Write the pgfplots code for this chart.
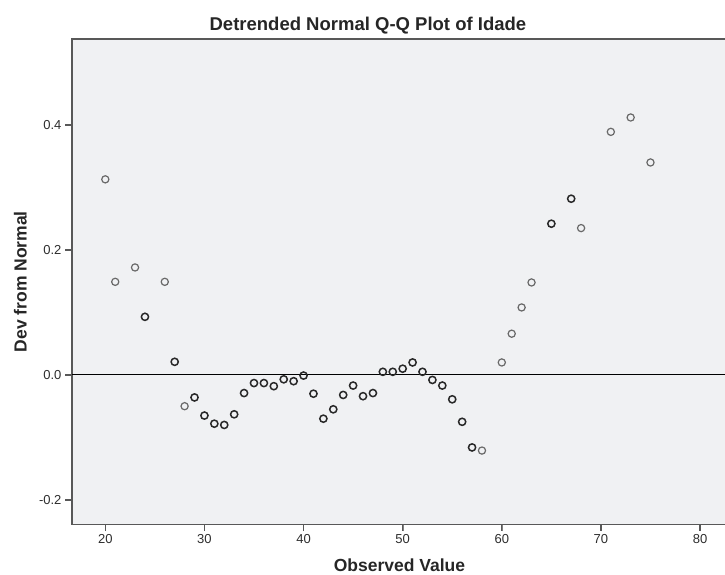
\documentclass[border=0pt]{standalone}
\usepackage{pgfplots}
\pgfplotsset{compat=1.18}
\usepackage{fontspec}
\setmainfont{Liberation Sans}
\definecolor{bgcol}{RGB}{240,241,243}
\definecolor{framecol}{RGB}{88,88,88}
\definecolor{lightmk}{RGB}{105,105,105}
\definecolor{darkmk}{RGB}{40,40,40}
\definecolor{tickcol}{RGB}{45,45,45}
\begin{document}
\begin{tikzpicture}
\useasboundingbox (0,0) rectangle (725pt,575pt);
\begin{axis}[
  at={(72pt,50.7pt)}, anchor=south west,
  scale only axis, width=655pt, height=485.3pt,
  xmin=16.64, xmax=82.72, ymin=-0.239, ymax=0.5376,
  axis line style={framecol, line width=1.3pt},
  axis background/.style={fill=bgcol},
  xtick={20,30,...,80}, ytick={-0.2,0,0.2,0.4},
  xtick pos=left, ytick pos=left,
  tick align=outside, major tick length=7pt,
  yticklabel style={/pgf/number format/.cd, fixed, fixed zerofill, precision=1, /tikz/.cd},
  /pgf/number format/assume math mode=true,
  ticklabel style={font=\fontsize{13}{13}\selectfont, text=tickcol},
  every axis title shift=0pt,
  title={Detrended Normal Q-Q Plot of Idade},
  title style={font=\fontsize{18.5}{18.5}\selectfont\bfseries, text=black!85, at={(axis description cs:0.4518,1.0185)}, anchor=base},
  xlabel={Observed Value},
  xlabel style={font=\fontsize{17.5}{17.5}\selectfont\bfseries, text=black!85, at={(axis description cs:0.5,-0.097)}, anchor=base},
  ylabel={Dev from Normal},
  ylabel style={font=\fontsize{17.5}{17.5}\selectfont\bfseries, text=black!85, at={(axis description cs:-0.0694,0.5)}, anchor=base},
  clip=false,
]
\addplot[black, line width=1.1pt, no markers] coordinates {(16.64,0) (82.72,0)};
\addplot[only marks, mark=o, mark size=3.6pt, mark options={draw=lightmk, line width=1.2pt, fill=none}] coordinates {
 (20,0.313) (21,0.149) (23,0.172) (26,0.149) (28,-0.050)
 (58,-0.121) (60,0.020) (61,0.066) (62,0.108) (63,0.148)
 (68,0.235) (71,0.389) (73,0.412) (75,0.340)
};
\addplot[only marks, mark=o, mark size=3.6pt, mark options={draw=darkmk, line width=1.5pt, fill=none}] coordinates {
 (24,0.093) (27,0.021) (29,-0.036) (30,-0.065) (31,-0.078) (32,-0.080)
 (33,-0.063) (34,-0.029) (35,-0.013) (36,-0.013) (37,-0.018) (38,-0.007)
 (39,-0.010) (40,-0.001) (41,-0.030) (42,-0.070) (43,-0.055) (44,-0.032)
 (45,-0.017) (46,-0.034) (47,-0.029) (48,0.005) (49,0.005) (50,0.010)
 (51,0.020) (52,0.005) (53,-0.008) (54,-0.017) (55,-0.039) (56,-0.075)
 (57,-0.116) (65,0.242) (67,0.282)
};
\pgfplotsinvokeforeach{20,30,40,50,60,70,80}{
  \draw[framecol, line width=1.3pt] (axis cs:#1,-0.239) -- (axis cs:#1,-0.2502);
}
\pgfplotsinvokeforeach{-0.2,0,0.2,0.4}{
  \draw[framecol, line width=1.3pt] (axis cs:16.64,#1) -- (axis cs:15.934,#1);
}
\end{axis}
\end{tikzpicture}
\end{document}
